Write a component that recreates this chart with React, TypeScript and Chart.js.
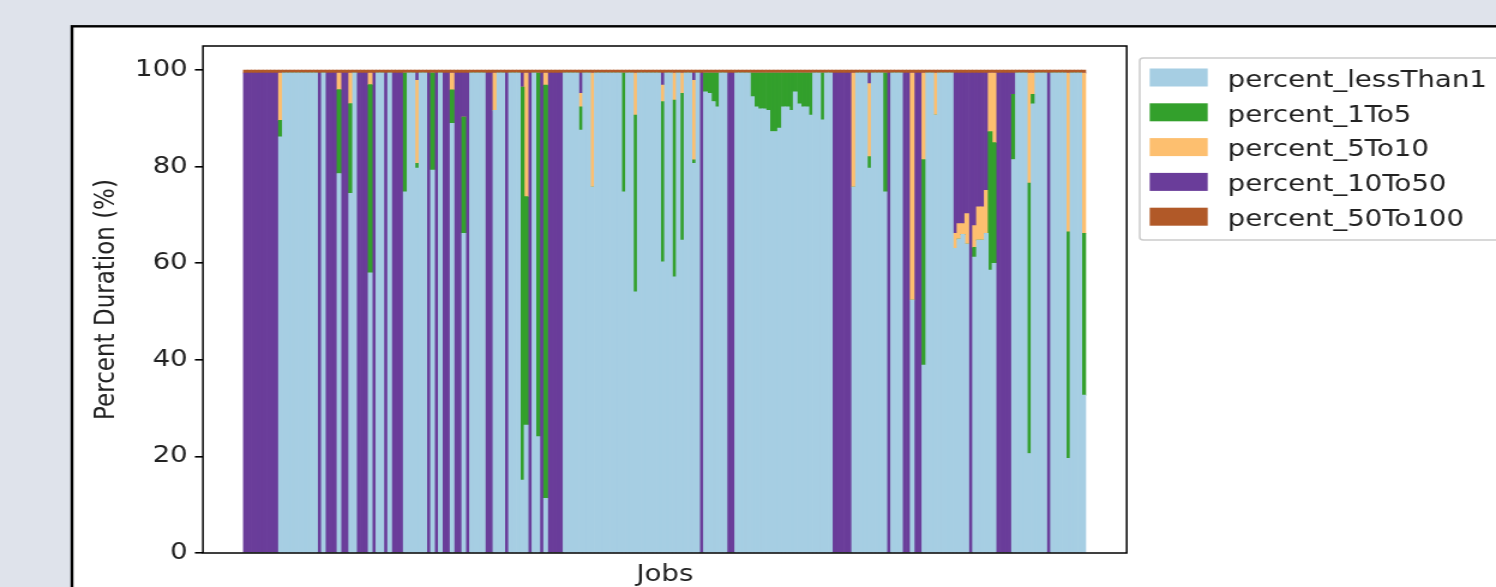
import React, { useEffect, useRef } from "react";
import { Chart, registerables } from "chart.js";

Chart.register(...registerables);

// ---------- data (one entry per job, stacked bottom -> top) ----------
const SERIES_LABELS = [
  "percent_lessThan1",
  "percent_1To5",
  "percent_5To10",
  "percent_10To50",
  "percent_50To100",
];
const SERIES_COLORS = ["#a6cee3", "#33a02c", "#fdbf6f", "#6a3d9a", "#b15928"];
const Y_TICKS = [0, 20, 40, 60, 80, 100];

const percent_lessThan1 = [
  0, 0, 0, 0, 0, 0, 0, 0, 0, 86.2, 99.4, 99.4,
  99.4, 99.4, 99.4, 99.4, 99.4, 99.4, 99.4, 0, 99.4, 0, 0, 0,
  78.6, 0, 0, 74.5, 99.4, 0, 0, 0, 58, 0, 99.4, 99.4,
  0, 99.4, 0, 0, 0, 74.8, 99.4, 99.4, 79.7, 99.4, 99.4, 0,
  79.3, 0, 99.4, 0, 0, 89, 0, 0, 66.2, 0, 99.4, 99.4,
  99.4, 99.4, 0, 0, 91.7, 99.4, 99.4, 0, 99.4, 99.4, 99.4, 15.1,
  26.5, 0, 99.4, 24.1, 0, 11.3, 0, 0, 0, 0, 99.4, 99.4,
  99.4, 99.4, 87.6, 99.4, 99.4, 75.8, 99.4, 99.4, 99.4, 99.4, 99.4, 99.4,
  99.4, 74.8, 99.4, 99.4, 54.1, 99.4, 99.4, 99.4, 99.4, 99.4, 99.4, 60.3,
  99.4, 99.4, 57.2, 99.4, 64.8, 99.4, 99.4, 80.7, 99.4, 0, 95.5, 95.2,
  93.5, 92.4, 99.4, 99.4, 0, 0, 99.4, 99.4, 99.4, 99.4, 94.5, 92.4,
  92.0, 92.0, 91.7, 87.3, 87.3, 88.0, 92.4, 92.4, 91.7, 95.5, 93.0, 92.4,
  92.4, 90.7, 99.4, 99.4, 89.7, 99.4, 99.4, 0, 0, 0, 0, 0,
  75.8, 99.4, 99.4, 99.4, 79.7, 99.4, 99.4, 99.4, 74.8, 0, 99.4, 99.4,
  99.4, 0, 0, 52.4, 0, 0, 38.9, 99.4, 99.4, 90.7, 99.4, 99.4,
  99.4, 99.4, 63.1, 65.0, 66.0, 64.0, 0, 61.3, 64.8, 64.8, 66.2, 58.6,
  60.0, 0, 0, 0, 0, 81.5, 99.4, 99.4, 99.4, 20.6, 93.0, 99.4,
  99.4, 99.4, 0, 99.4, 99.4, 99.4, 99.4, 19.6, 99.4, 99.4, 99.4, 32.7,
];

const percent_1To5 = [
  0, 0, 0, 0, 0, 0, 0, 0, 0, 3.4, 0, 0,
  0, 0, 0, 0, 0, 0, 0, 0, 0, 0, 0, 0,
  17.4, 0, 0, 18.6, 0, 0, 0, 0, 39, 0, 0, 0,
  0, 0, 0, 0, 0, 24.6, 0, 0, 1, 0, 0, 0,
  20.1, 0, 0, 0, 0, 6.9, 0, 0, 24.1, 0, 0, 0,
  0, 0, 0, 0, 0, 0, 0, 0, 0, 0, 0, 81.4,
  47.3, 0, 0, 75.3, 0, 85.6, 0, 0, 0, 0, 0, 0,
  0, 0, 4.8, 0, 0, 0, 0, 0, 0, 0, 0, 0,
  0, 24.6, 0, 0, 36.6, 0, 0, 0, 0, 0, 0, 33.2,
  0, 0, 36.6, 0, 30.4, 0, 0, 0.7, 0, 0, 3.9, 4.2,
  5.9, 7.0, 0, 0, 0, 0, 0, 0, 0, 0, 4.9, 7.0,
  7.4, 7.4, 7.7, 12.1, 12.1, 11.4, 7.0, 7.0, 7.7, 3.9, 6.4, 7.0,
  7.0, 8.7, 0, 0, 9.7, 0, 0, 0, 0, 0, 0, 0,
  0, 0, 0, 0, 2.4, 0, 0, 0, 24.6, 0, 0, 0,
  0, 0, 0, 0, 0, 0, 42.6, 0, 0, 0, 0, 0,
  0, 0, 0, 0, 0, 0, 0, 2.0, 0, 0, 0, 28.7,
  25.0, 0, 0, 0, 0, 13.5, 0, 0, 0, 56.0, 2.0, 0,
  0, 0, 0, 0, 0, 0, 0, 46.9, 0, 0, 0, 33.5,
];

const percent_5To10 = [
  0, 0, 0, 0, 0, 0, 0, 0, 0, 9.8, 0, 0,
  0, 0, 0, 0, 0, 0, 0, 0, 0, 0, 0, 0,
  3.4, 0, 0, 6.3, 0, 0, 0, 0, 2.4, 0, 0, 0,
  0, 0, 0, 0, 0, 0, 0, 0, 17.2, 0, 0, 0,
  0, 0, 0, 0, 0, 3.5, 0, 0, 0, 0, 0, 0,
  0, 0, 0, 0, 7.7, 0, 0, 0, 0, 0, 0, 0,
  25.6, 0, 0, 0, 0, 2.5, 0, 0, 0, 0, 0, 0,
  0, 0, 2.8, 0, 0, 23.6, 0, 0, 0, 0, 0, 0,
  0, 0, 0, 0, 8.7, 0, 0, 0, 0, 0, 0, 3.4,
  0, 0, 5.6, 0, 4.2, 0, 0, 16.5, 0, 0, 0, 0,
  0, 0, 0, 0, 0, 0, 0, 0, 0, 0, 0, 0,
  0, 0, 0, 0, 0, 0, 0, 0, 0, 0, 0, 0,
  0, 0, 0, 0, 0, 0, 0, 0, 0, 0, 0, 0,
  23.6, 0, 0, 0, 15.1, 0, 0, 0, 0, 0, 0, 0,
  0, 0, 0, 47.0, 0, 0, 17.9, 0, 0, 8.7, 0, 0,
  0, 0, 3.1, 3.2, 2.2, 6.3, 0, 4.5, 6.9, 6.9, 8.9, 12.1,
  14.4, 0, 0, 0, 0, 0, 0, 0, 0, 22.8, 4.4, 0,
  0, 0, 0, 0, 0, 0, 0, 32.9, 0, 0, 0, 33.2,
];

const percent_10To50 = [
  99.4, 99.4, 99.4, 99.4, 99.4, 99.4, 99.4, 99.4, 99.4, 0, 0, 0,
  0, 0, 0, 0, 0, 0, 0, 99.4, 0, 99.4, 99.4, 99.4,
  0, 99.4, 99.4, 0, 0, 99.4, 99.4, 99.4, 0, 99.4, 0, 0,
  99.4, 0, 99.4, 99.4, 99.4, 0, 0, 0, 1.5, 0, 0, 99.4,
  0, 99.4, 0, 99.4, 99.4, 0, 99.4, 99.4, 9.1, 99.4, 0, 0,
  0, 0, 99.4, 99.4, 0, 0, 0, 99.4, 0, 0, 0, 2.9,
  0, 99.4, 0, 0, 99.4, 0, 99.4, 99.4, 99.4, 99.4, 0, 0,
  0, 0, 4.2, 0, 0, 0, 0, 0, 0, 0, 0, 0,
  0, 0, 0, 0, 0, 0, 0, 0, 0, 0, 0, 2.5,
  0, 0, 0, 0, 0, 0, 0, 1.5, 0, 99.4, 0, 0,
  0, 0, 0, 0, 99.4, 99.4, 0, 0, 0, 0, 0, 0,
  0, 0, 0, 0, 0, 0, 0, 0, 0, 0, 0, 0,
  0, 0, 0, 0, 0, 0, 0, 99.4, 99.4, 99.4, 99.4, 99.4,
  0, 0, 0, 0, 2.2, 0, 0, 0, 0, 99.4, 0, 0,
  0, 99.4, 99.4, 0, 99.4, 99.4, 0, 0, 0, 0, 0, 0,
  0, 0, 33.2, 31.2, 31.2, 29.1, 99.4, 31.6, 27.7, 27.7, 24.3, 0,
  0, 99.4, 99.4, 99.4, 99.4, 4.4, 0, 0, 0, 0, 0, 0,
  0, 0, 99.4, 0, 0, 0, 0, 0, 0, 0, 0, 0,
];

const percent_50To100 = [
  0.6, 0.6, 0.6, 0.6, 0.6, 0.6, 0.6, 0.6, 0.6, 0.6, 0.6, 0.6,
  0.6, 0.6, 0.6, 0.6, 0.6, 0.6, 0.6, 0.6, 0.6, 0.6, 0.6, 0.6,
  0.6, 0.6, 0.6, 0.6, 0.6, 0.6, 0.6, 0.6, 0.6, 0.6, 0.6, 0.6,
  0.6, 0.6, 0.6, 0.6, 0.6, 0.6, 0.6, 0.6, 0.6, 0.6, 0.6, 0.6,
  0.6, 0.6, 0.6, 0.6, 0.6, 0.6, 0.6, 0.6, 0.6, 0.6, 0.6, 0.6,
  0.6, 0.6, 0.6, 0.6, 0.6, 0.6, 0.6, 0.6, 0.6, 0.6, 0.6, 0.6,
  0.6, 0.6, 0.6, 0.6, 0.6, 0.6, 0.6, 0.6, 0.6, 0.6, 0.6, 0.6,
  0.6, 0.6, 0.6, 0.6, 0.6, 0.6, 0.6, 0.6, 0.6, 0.6, 0.6, 0.6,
  0.6, 0.6, 0.6, 0.6, 0.6, 0.6, 0.6, 0.6, 0.6, 0.6, 0.6, 0.6,
  0.6, 0.6, 0.6, 0.6, 0.6, 0.6, 0.6, 0.6, 0.6, 0.6, 0.6, 0.6,
  0.6, 0.6, 0.6, 0.6, 0.6, 0.6, 0.6, 0.6, 0.6, 0.6, 0.6, 0.6,
  0.6, 0.6, 0.6, 0.6, 0.6, 0.6, 0.6, 0.6, 0.6, 0.6, 0.6, 0.6,
  0.6, 0.6, 0.6, 0.6, 0.6, 0.6, 0.6, 0.6, 0.6, 0.6, 0.6, 0.6,
  0.6, 0.6, 0.6, 0.6, 0.6, 0.6, 0.6, 0.6, 0.6, 0.6, 0.6, 0.6,
  0.6, 0.6, 0.6, 0.6, 0.6, 0.6, 0.6, 0.6, 0.6, 0.6, 0.6, 0.6,
  0.6, 0.6, 0.6, 0.6, 0.6, 0.6, 0.6, 0.6, 0.6, 0.6, 0.6, 0.6,
  0.6, 0.6, 0.6, 0.6, 0.6, 0.6, 0.6, 0.6, 0.6, 0.6, 0.6, 0.6,
  0.6, 0.6, 0.6, 0.6, 0.6, 0.6, 0.6, 0.6, 0.6, 0.6, 0.6, 0.6,
];

const SERIES = [
  percent_lessThan1,
  percent_1To5,
  percent_5To10,
  percent_10To50,
  percent_50To100,
];

// ---------- layout (the reference picture is stretched horizontally) ----------
const STRETCH = 1.2;
const PAGE_W = 1496;
const PAGE_H = 587;
const CANVAS_W = Math.round(PAGE_W / STRETCH);
const sx = (x: number) => x / STRETCH; // reference x -> canvas x

const FONT = '"DejaVu Sans", "Liberation Sans", sans-serif';
const TEXT_COLOR = "#222222";

export default function App() {
  const canvasRef = useRef<HTMLCanvasElement | null>(null);

  useEffect(() => {
    const canvas = canvasRef.current;
    if (!canvas) return;

    const jobs = percent_lessThan1.map((_, i) => i);
    const xMin = -0.5 - 10.38;
    const xMax = xMin + 236.9;

    const framePlugin = {
      id: "frame",
      beforeDraw(chart: any) {
        const { ctx, width, height } = chart;
        ctx.save();
        ctx.fillStyle = "#dfe3eb";
        ctx.fillRect(0, 0, width, height);
        ctx.fillStyle = "#ffffff";
        ctx.fillRect(sx(72), 26.3, width, height);
        ctx.strokeStyle = "#000000";
        ctx.lineWidth = 2.4;
        ctx.strokeRect(sx(72), 26.3, width + 20, height + 20);
        ctx.restore();
      },
      afterDatasetsDraw(chart: any) {
        const { ctx, chartArea } = chart;
        ctx.save();
        ctx.strokeStyle = "#000000";
        ctx.lineWidth = 1.5;
        ctx.strokeRect(
          chartArea.left,
          chartArea.top,
          chartArea.right - chartArea.left,
          chartArea.bottom - chartArea.top
        );
        ctx.restore();
      },
      afterDraw(chart: any) {
        const { ctx } = chart;
        const left = sx(1140);
        const top = 58;
        const h = 182;
        const right = CANVAS_W + 10;
        const r = 3;
        ctx.save();
        ctx.beginPath();
        ctx.moveTo(left + r, top);
        ctx.lineTo(right, top);
        ctx.lineTo(right, top + h);
        ctx.lineTo(left + r, top + h);
        ctx.quadraticCurveTo(left, top + h, left, top + h - r);
        ctx.lineTo(left, top + r);
        ctx.quadraticCurveTo(left, top, left + r, top);
        ctx.closePath();
        ctx.fillStyle = "#ffffff";
        ctx.fill();
        ctx.strokeStyle = "#cccccc";
        ctx.lineWidth = 1.5;
        ctx.stroke();

        ctx.font = `23px ${FONT}`;
        ctx.textAlign = "left";
        ctx.textBaseline = "alphabetic";
        chart.data.datasets.forEach((ds: any, k: number) => {
          const cy = 77.5 + k * 34.8;
          ctx.fillStyle = ds.backgroundColor;
          ctx.fillRect(sx(1150), cy - 9, sx(1208) - sx(1150), 18);
          ctx.fillStyle = TEXT_COLOR;
          ctx.fillText(ds.label, sx(1228), cy + 9.2);
        });
        ctx.restore();
      },
    };

    const chart = new Chart(canvas, {
      type: "bar",
      data: {
        datasets: SERIES.map((arr, k) => ({
          label: SERIES_LABELS[k],
          data: jobs.map((i) => ({ x: i, y: arr[i] })),
          backgroundColor: SERIES_COLORS[k],
          borderWidth: 0,
          barPercentage: 1,
          categoryPercentage: 1,
        })),
      },
      options: {
        animation: false,
        responsive: false,
        devicePixelRatio: 1,
        events: [],
        layout: {
          padding: { left: 70, right: CANVAS_W - sx(1127), top: 46, bottom: 0 },
        },
        plugins: {
          legend: { display: false },
          tooltip: { enabled: false },
        },
        scales: {
          x: {
            type: "linear",
            stacked: true,
            offset: false,
            bounds: "data",
            min: xMin,
            max: xMax,
            ticks: { display: false },
            grid: { display: false, drawTicks: false, offset: false },
            border: { display: false },
            title: {
              display: true,
              text: "Jobs",
              color: TEXT_COLOR,
              font: { family: FONT, size: 23, lineHeight: 1.0 },
              padding: { top: 0, bottom: 0 },
            },
            afterFit: (scale: any) => {
              scale.height = PAGE_H - 553;
            },
          },
          y: {
            stacked: true,
            min: 0,
            max: 105,
            afterBuildTicks: (scale: any) => {
              scale.ticks = Y_TICKS.map((v) => ({ value: v }));
            },
            ticks: {
              stepSize: 20,
              includeBounds: false,
              color: TEXT_COLOR,
              font: { family: FONT, size: 23 },
              padding: 6,
            },
            grid: {
              drawOnChartArea: false,
              drawTicks: true,
              tickLength: 6.7,
              color: "#000000",
              lineWidth: 1.6,
            },
            border: { display: false },
            title: {
              display: true,
              text: "Percent Duration (%)",
              color: TEXT_COLOR,
              font: { family: FONT, size: 23 },
              padding: { top: 5.7, bottom: 0 },
            },
            afterFit: (scale: any) => {
              scale.width = sx(203) - 70;
            },
          },
        },
      } as any,
      plugins: [framePlugin],
    });

    return () => chart.destroy();
  }, []);

  return (
    <div
      style={{
        position: "fixed",
        left: 0,
        top: 0,
        width: PAGE_W,
        height: PAGE_H,
        overflow: "hidden",
      }}
    >
      <canvas
        ref={canvasRef}
        width={CANVAS_W}
        height={PAGE_H}
        style={{ width: `${PAGE_W}px`, height: `${PAGE_H}px`, display: "block" }}
      />
    </div>
  );
}
